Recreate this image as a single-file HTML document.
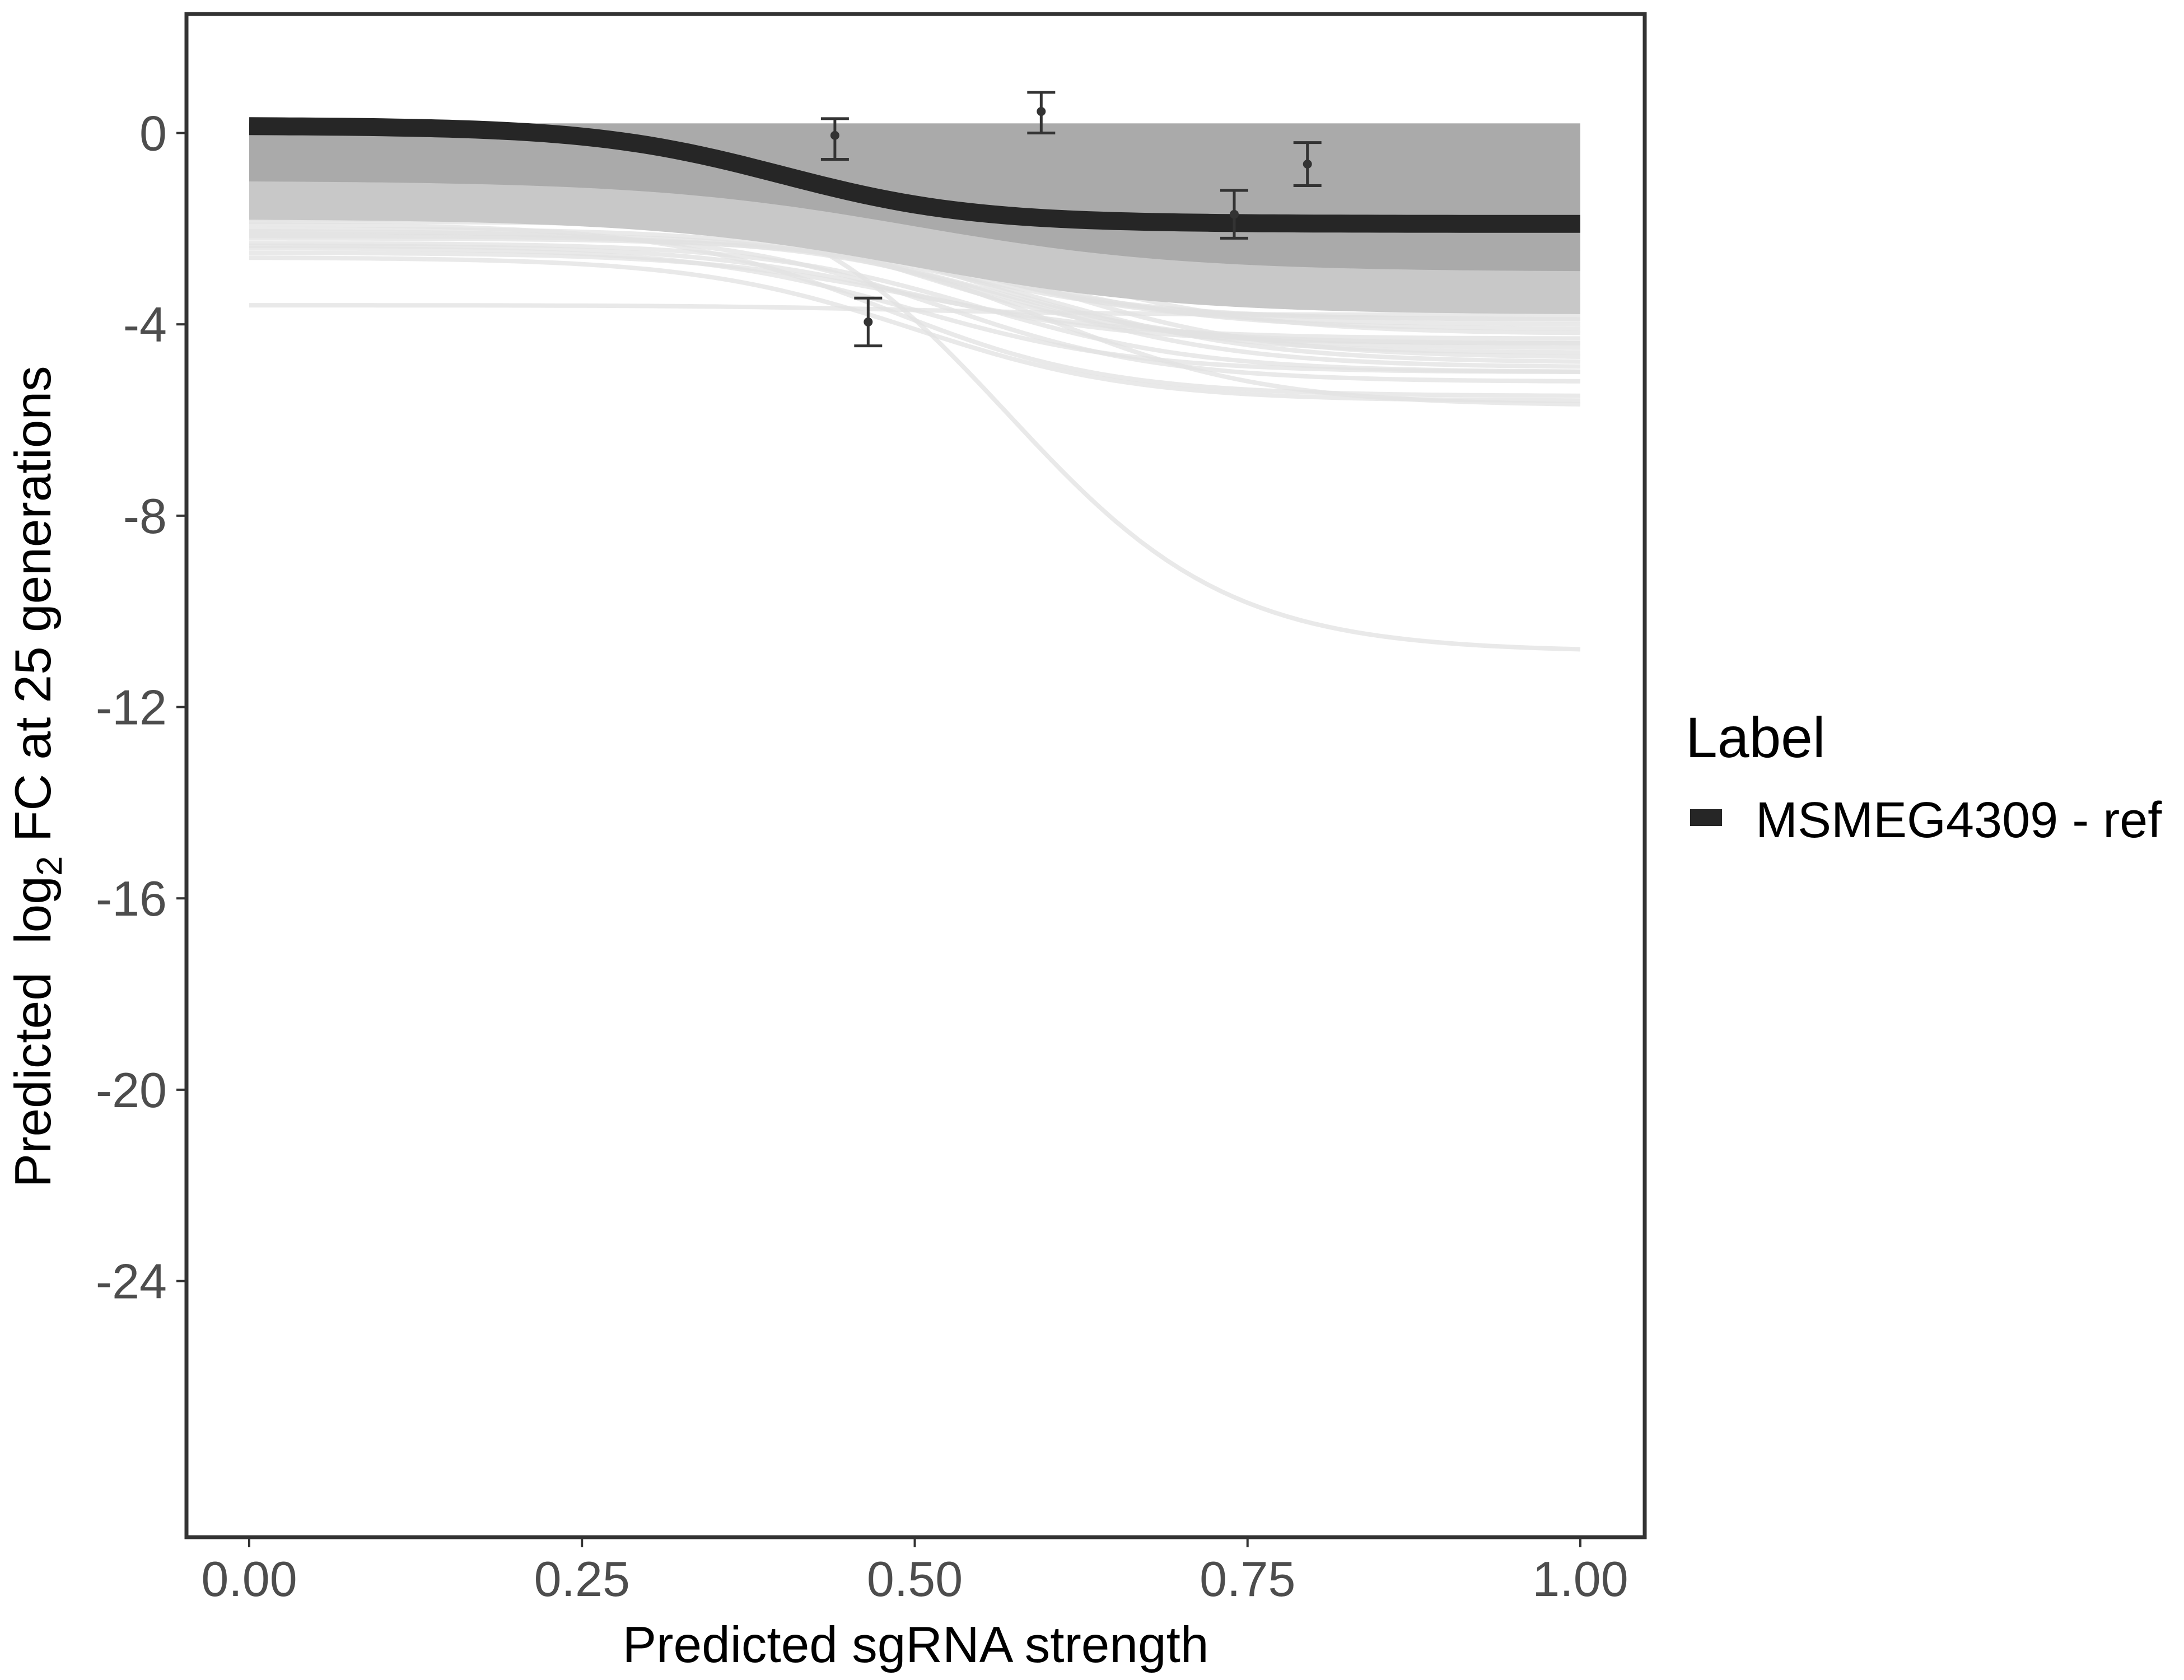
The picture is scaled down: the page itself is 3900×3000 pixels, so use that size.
<!DOCTYPE html>
<html><head><meta charset="utf-8"><style>
html,body{margin:0;padding:0;background:#fff}
svg{display:block;font-family:"Liberation Sans",Arial,sans-serif}
</style></head><body>
<svg id="chart" width="3900" height="3000" viewBox="0 0 3900 3000" xmlns="http://www.w3.org/2000/svg">
<rect x="0" y="0" width="3900" height="3000" fill="#fff"/>
<g id="plot"></g>
<rect x="333" y="25" width="2604" height="2720" fill="none" stroke="#333" stroke-width="7"/>
<g id="axes"></g>
<text x="1635" y="2968" font-size="91" text-anchor="middle" fill="#000">Predicted sgRNA strength</text>
<text transform="translate(90,1387) rotate(-90)" font-size="91" text-anchor="middle" fill="#000" xml:space="preserve">Predicted  log<tspan font-size="64" dy="20">2</tspan><tspan dy="-20"> FC at 25 generations</tspan></text>
<g>
<text x="3010" y="1352" font-size="102" fill="#000">Label</text>
<rect x="3018" y="1445" width="57" height="30" fill="#262626"/>
<text x="3135" y="1495" font-size="90" fill="#000">MSMEG4309 - ref</text>
</g>
</svg>
<script>
const xTicks=[0,0.25,0.5,0.75,1];
const xTickLabels=["0.00","0.25","0.50","0.75","1.00"];
const yTicks=[0,-4,-8,-12,-16,-20,-24];
const yTickLabels=["0","-4","-8","-12","-16","-20","-24"];
// posterior draws: sigmoid curves [start, end, midpoint]
const drawStart=[0.15,0.1,0.0,-0.2,-0.4,-0.6,-0.8,-1.0,-1.2,-1.4,-1.6,-1.8,-2.0,-2.2,-2.4,-2.6,-0.5,-1.1,-1.5,-1.9,-2.3,-3.6,-0.3,-0.7,-1.3,-1.7,-2.1,-0.9,-2.5,-1.0,-1.25,-1.45,-1.65,-1.85,-2.05,-0.95,-1.15,-1.35,-2.15,-2.35];
const drawEnd=[0.15,0.0,-0.5,-1.0,-1.5,-2.0,-2.5,-3.0,-3.3,-3.6,-3.9,-4.2,-4.5,-4.8,-5.0,-5.6,-2.8,-4.0,-4.4,-5.5,-5.0,-3.8,-1.2,-2.2,-3.5,-4.6,-5.7,-10.85,-4.3,-3.2,-3.4,-3.7,-4.1,-4.7,-5.2,-3.1,-3.3,-3.9,-4.9,-4.4];
const drawMid=[0.5,0.5,0.45,0.5,0.5,0.55,0.5,0.55,0.5,0.55,0.5,0.6,0.55,0.6,0.5,0.5,0.45,0.5,0.5,0.48,0.55,0.5,0.4,0.45,0.5,0.55,0.6,0.57,0.5,0.5,0.45,0.5,0.55,0.6,0.52,0.48,0.55,0.5,0.58,0.5];
// fitted reference curve
const fitStart=0.15, fitEnd=-1.9, fitMid=0.4, fitSlope=14;
// observed points
const ptX=[0.44,0.595,0.465,0.74,0.795];
const ptY=[-0.05,0.45,-3.95,-1.7,-0.65];
const ptLo=[-0.55,0.0,-4.45,-2.2,-1.1];
const ptHi=[0.3,0.85,-3.45,-1.2,-0.2];
const bandTop=0.2, bandBotStart=-1.0, bandBotEnd=-2.9;

const NS="http://www.w3.org/2000/svg";
const X=v=>445+v*(2822-445);
const Y=v=>237.5-v*85.42;
const plot=document.getElementById('plot'), axes=document.getElementById('axes');
function mk(tag,attrs,parent){const e=document.createElementNS(NS,tag);for(const k in attrs)e.setAttribute(k,attrs[k]);parent.appendChild(e);return e;}
function sig(a,b,m,s,x){return a+(b-a)/(1+Math.exp(-s*(x-m)));}
function curvePath(a,b,m,s){let d="";for(let i=0;i<=100;i++){const x=i/100;d+=(i?"L":"M")+X(x).toFixed(1)+","+Y(sig(a,b,m,s,x)).toFixed(1);}return d;}
// light draws
for(let i=0;i<drawStart.length;i++){
  const p=mk('path',{d:curvePath(drawStart[i],drawEnd[i],drawMid[i],12),fill:'none',stroke:'#e2e2e2','stroke-width':8,'stroke-opacity':0.75},plot);
  
  
}
// soft halo under band
let h="";
for(let i=0;i<=100;i++){const x=i/100;h+=(i?"L":"M")+X(x)+","+Y(bandTop);}
for(let i=100;i>=0;i--){const x=i/100;h+="L"+X(x).toFixed(1)+","+Y(sig(bandBotStart-0.8,bandBotEnd-0.9,0.5,10,x)).toFixed(1);}
const halo=mk('path',{d:h+"Z",fill:'#c8c8c8'},plot);


// dense band
let d="";
for(let i=0;i<=100;i++){const x=i/100;d+=(i?"L":"M")+X(x)+","+Y(bandTop);}
for(let i=100;i>=0;i--){const x=i/100;d+="L"+X(x).toFixed(1)+","+Y(sig(bandBotStart,bandBotEnd,0.5,10,x)).toFixed(1);}
const band=mk('path',{d:d+"Z",fill:'#aaaaaa'},plot);


// fitted curve
const fit=mk('path',{d:curvePath(fitStart,fitEnd,fitMid,fitSlope),fill:'none',stroke:'#262626','stroke-width':32},plot);


// error bars
for(let i=0;i<ptX.length;i++){
  const g=mk('g',{stroke:'#333','stroke-width':5},plot);
  
  
  const x=X(ptX[i]);
  mk('line',{x1:x,x2:x,y1:Y(ptLo[i]),y2:Y(ptHi[i])},g);
  mk('line',{x1:x-25,x2:x+25,y1:Y(ptLo[i]),y2:Y(ptLo[i])},g);
  mk('line',{x1:x-25,x2:x+25,y1:Y(ptHi[i]),y2:Y(ptHi[i])},g);
  const c=mk('circle',{cx:x,cy:Y(ptY[i]),r:8,fill:'#333',stroke:'none'},plot);
  
  
}
// ticks
xTicks.forEach((v,i)=>{
  const t=mk('line',{x1:X(v),x2:X(v),y1:2748,y2:2763,stroke:'#333','stroke-width':4},axes);
  
  
  const l=mk('text',{x:X(v),y:2850,'font-size':88,'text-anchor':'middle',fill:'#4d4d4d'},axes);
  l.textContent=xTickLabels[i];
  
  
});
yTicks.forEach((v,i)=>{
  const t=mk('line',{x1:315,x2:330,y1:Y(v),y2:Y(v),stroke:'#333','stroke-width':4},axes);
  
  
  const l=mk('text',{x:298,y:Y(v)+31,'font-size':88,'text-anchor':'end',fill:'#4d4d4d'},axes);
  l.textContent=yTickLabels[i];
  
  
});
</script>
</body></html>
